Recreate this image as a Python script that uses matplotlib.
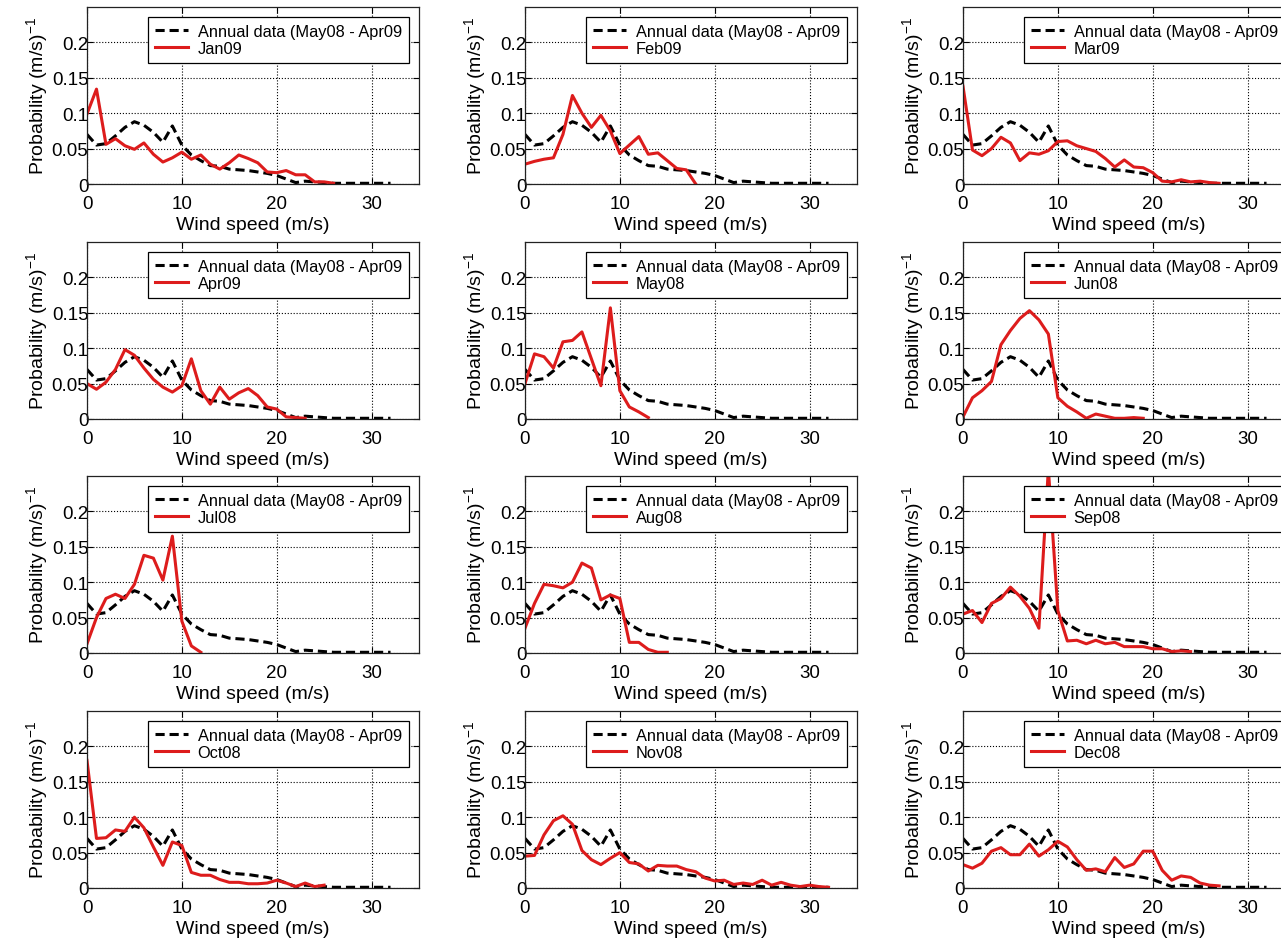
import matplotlib
matplotlib.use("Agg")
import matplotlib.pyplot as plt

plt.rcParams["font.family"] = ["Liberation Sans", "DejaVu Sans"]
plt.rcParams["mathtext.fontset"] = "custom"
plt.rcParams["mathtext.rm"] = "Liberation Sans"
plt.rcParams["mathtext.default"] = "regular"

# wind speed bins (m/s)
annual = [0.070, 0.055, 0.057, 0.068, 0.080, 0.088, 0.083, 0.073, 0.059, 0.082,
          0.055, 0.041, 0.033, 0.026, 0.025, 0.021, 0.020, 0.019, 0.017, 0.015,
          0.012, 0.007, 0.002, 0.004, 0.003, 0.002, 0.001, 0.001, 0.001, 0.001,
          0.001, 0.001, 0.001]

jan09 = [0.099, 0.134, 0.056, 0.064, 0.054, 0.049, 0.058, 0.042, 0.031, 0.037,
         0.045, 0.035, 0.041, 0.028, 0.021, 0.030, 0.041, 0.036, 0.030, 0.017,
         0.016, 0.019, 0.013, 0.013, 0.003, 0.003, 0.001]
feb09 = [0.028, 0.032, 0.035, 0.037, 0.070, 0.125, 0.100, 0.080, 0.097, 0.075,
         0.043, 0.055, 0.067, 0.042, 0.044, 0.033, 0.022, 0.020, 0.000]
mar09 = [0.138, 0.048, 0.040, 0.050, 0.066, 0.058, 0.033, 0.044, 0.042, 0.047,
         0.060, 0.061, 0.054, 0.050, 0.046, 0.036, 0.024, 0.034, 0.024, 0.023,
         0.016, 0.004, 0.003, 0.006, 0.003, 0.004, 0.002, 0.001]
apr09 = [0.050, 0.042, 0.052, 0.070, 0.098, 0.090, 0.072, 0.056, 0.045, 0.038,
         0.047, 0.085, 0.040, 0.021, 0.045, 0.028, 0.037, 0.043, 0.033, 0.017,
         0.014, 0.003, 0.002, 0.001]
may08 = [0.050, 0.092, 0.088, 0.072, 0.109, 0.111, 0.123, 0.085, 0.047, 0.157,
         0.040, 0.017, 0.010, 0.002]
jun08 = [0.003, 0.030, 0.040, 0.053, 0.105, 0.125, 0.142, 0.153, 0.140, 0.120,
         0.030, 0.018, 0.010, 0.001, 0.007, 0.004, 0.001, 0.001, 0.002, 0.001]
jul08 = [0.013, 0.050, 0.077, 0.083, 0.077, 0.097, 0.138, 0.134, 0.103, 0.165,
         0.045, 0.010, 0.001]
aug08 = [0.035, 0.070, 0.097, 0.095, 0.092, 0.100, 0.127, 0.120, 0.075, 0.082,
         0.077, 0.015, 0.015, 0.005, 0.001, 0.001]
sep08 = [0.055, 0.060, 0.043, 0.070, 0.077, 0.093, 0.080, 0.063, 0.035, 0.260,
         0.060, 0.017, 0.018, 0.013, 0.018, 0.013, 0.015, 0.009, 0.009, 0.009,
         0.006, 0.006, 0.002, 0.003, 0.002]
oct08 = [0.180, 0.070, 0.071, 0.082, 0.080, 0.100, 0.085, 0.058, 0.032, 0.065,
         0.060, 0.022, 0.018, 0.018, 0.012, 0.008, 0.008, 0.006, 0.006, 0.007,
         0.011, 0.007, 0.002, 0.007, 0.002, 0.004]
nov08 = [0.045, 0.046, 0.075, 0.095, 0.102, 0.090, 0.053, 0.040, 0.033, 0.042,
         0.050, 0.036, 0.034, 0.024, 0.032, 0.031, 0.031, 0.026, 0.023, 0.014,
         0.010, 0.011, 0.005, 0.007, 0.005, 0.011, 0.004, 0.008, 0.004, 0.002,
         0.004, 0.002, 0.001]
dec08 = [0.033, 0.028, 0.035, 0.052, 0.057, 0.047, 0.047, 0.062, 0.045, 0.054,
         0.066, 0.058, 0.040, 0.025, 0.027, 0.023, 0.043, 0.029, 0.034, 0.052,
         0.052, 0.025, 0.011, 0.017, 0.015, 0.007, 0.004, 0.003]

panels = [
    ("Jan09", jan09), ("Feb09", feb09), ("Mar09", mar09),
    ("Apr09", apr09), ("May08", may08), ("Jun08", jun08),
    ("Jul08", jul08), ("Aug08", aug08), ("Sep08", sep08),
    ("Oct08", oct08), ("Nov08", nov08), ("Dec08", dec08),
]

W, H = 1281, 945
col_left = [87, 525, 963]
row_top = [8, 243, 477, 712]
ax_w, ax_h = 332, 177

fig = plt.figure(figsize=(W / 100, H / 100), dpi=100)

for i, (name, vals) in enumerate(panels):
    r, c = divmod(i, 3)
    ax = fig.add_axes([col_left[c] / W, 1 - (row_top[r] + ax_h) / H, ax_w / W, ax_h / H])
    ax.plot(range(len(annual)), annual, color="black", ls=(0, (3, 1.6)), lw=2.2,
            label="Annual data (May08 - Apr09")
    ax.plot(range(len(vals)), vals, color="#dd1c1c", lw=2.2, label=name)
    ax.set_xlim(0, 35)
    ax.set_ylim(0, 0.25)
    ax.set_xticks([0, 10, 20, 30])
    ax.set_yticks([0, 0.05, 0.1, 0.15, 0.2])
    ax.set_yticklabels(["0", "0.05", "0.1", "0.15", "0.2"])
    ax.tick_params(direction="in", top=True, right=True, length=4, labelsize=13.5)
    ax.tick_params(axis="x", pad=8)
    ax.tick_params(axis="y", pad=-1)
    ax.grid(True, color="black", ls=":", lw=0.8)
    for sp in ax.spines.values():
        sp.set_linewidth(0.9)
        sp.set_color("#222222")
    ax.set_xlabel("Wind speed (m/s)", fontsize=14, labelpad=3)
    ax.set_ylabel("Probability (m/s)$^{-1}$", fontsize=14, labelpad=1)
    leg = ax.legend(loc="upper right", bbox_to_anchor=(0.97, 0.945), fontsize=11.8,
                    frameon=True, fancybox=False, framealpha=1, edgecolor="black",
                    borderpad=0.45, labelspacing=0.1, handlelength=2.0,
                    handletextpad=0.6, borderaxespad=0)
    leg.get_frame().set_linewidth(0.9)

fig.savefig("out.png", dpi=100)
